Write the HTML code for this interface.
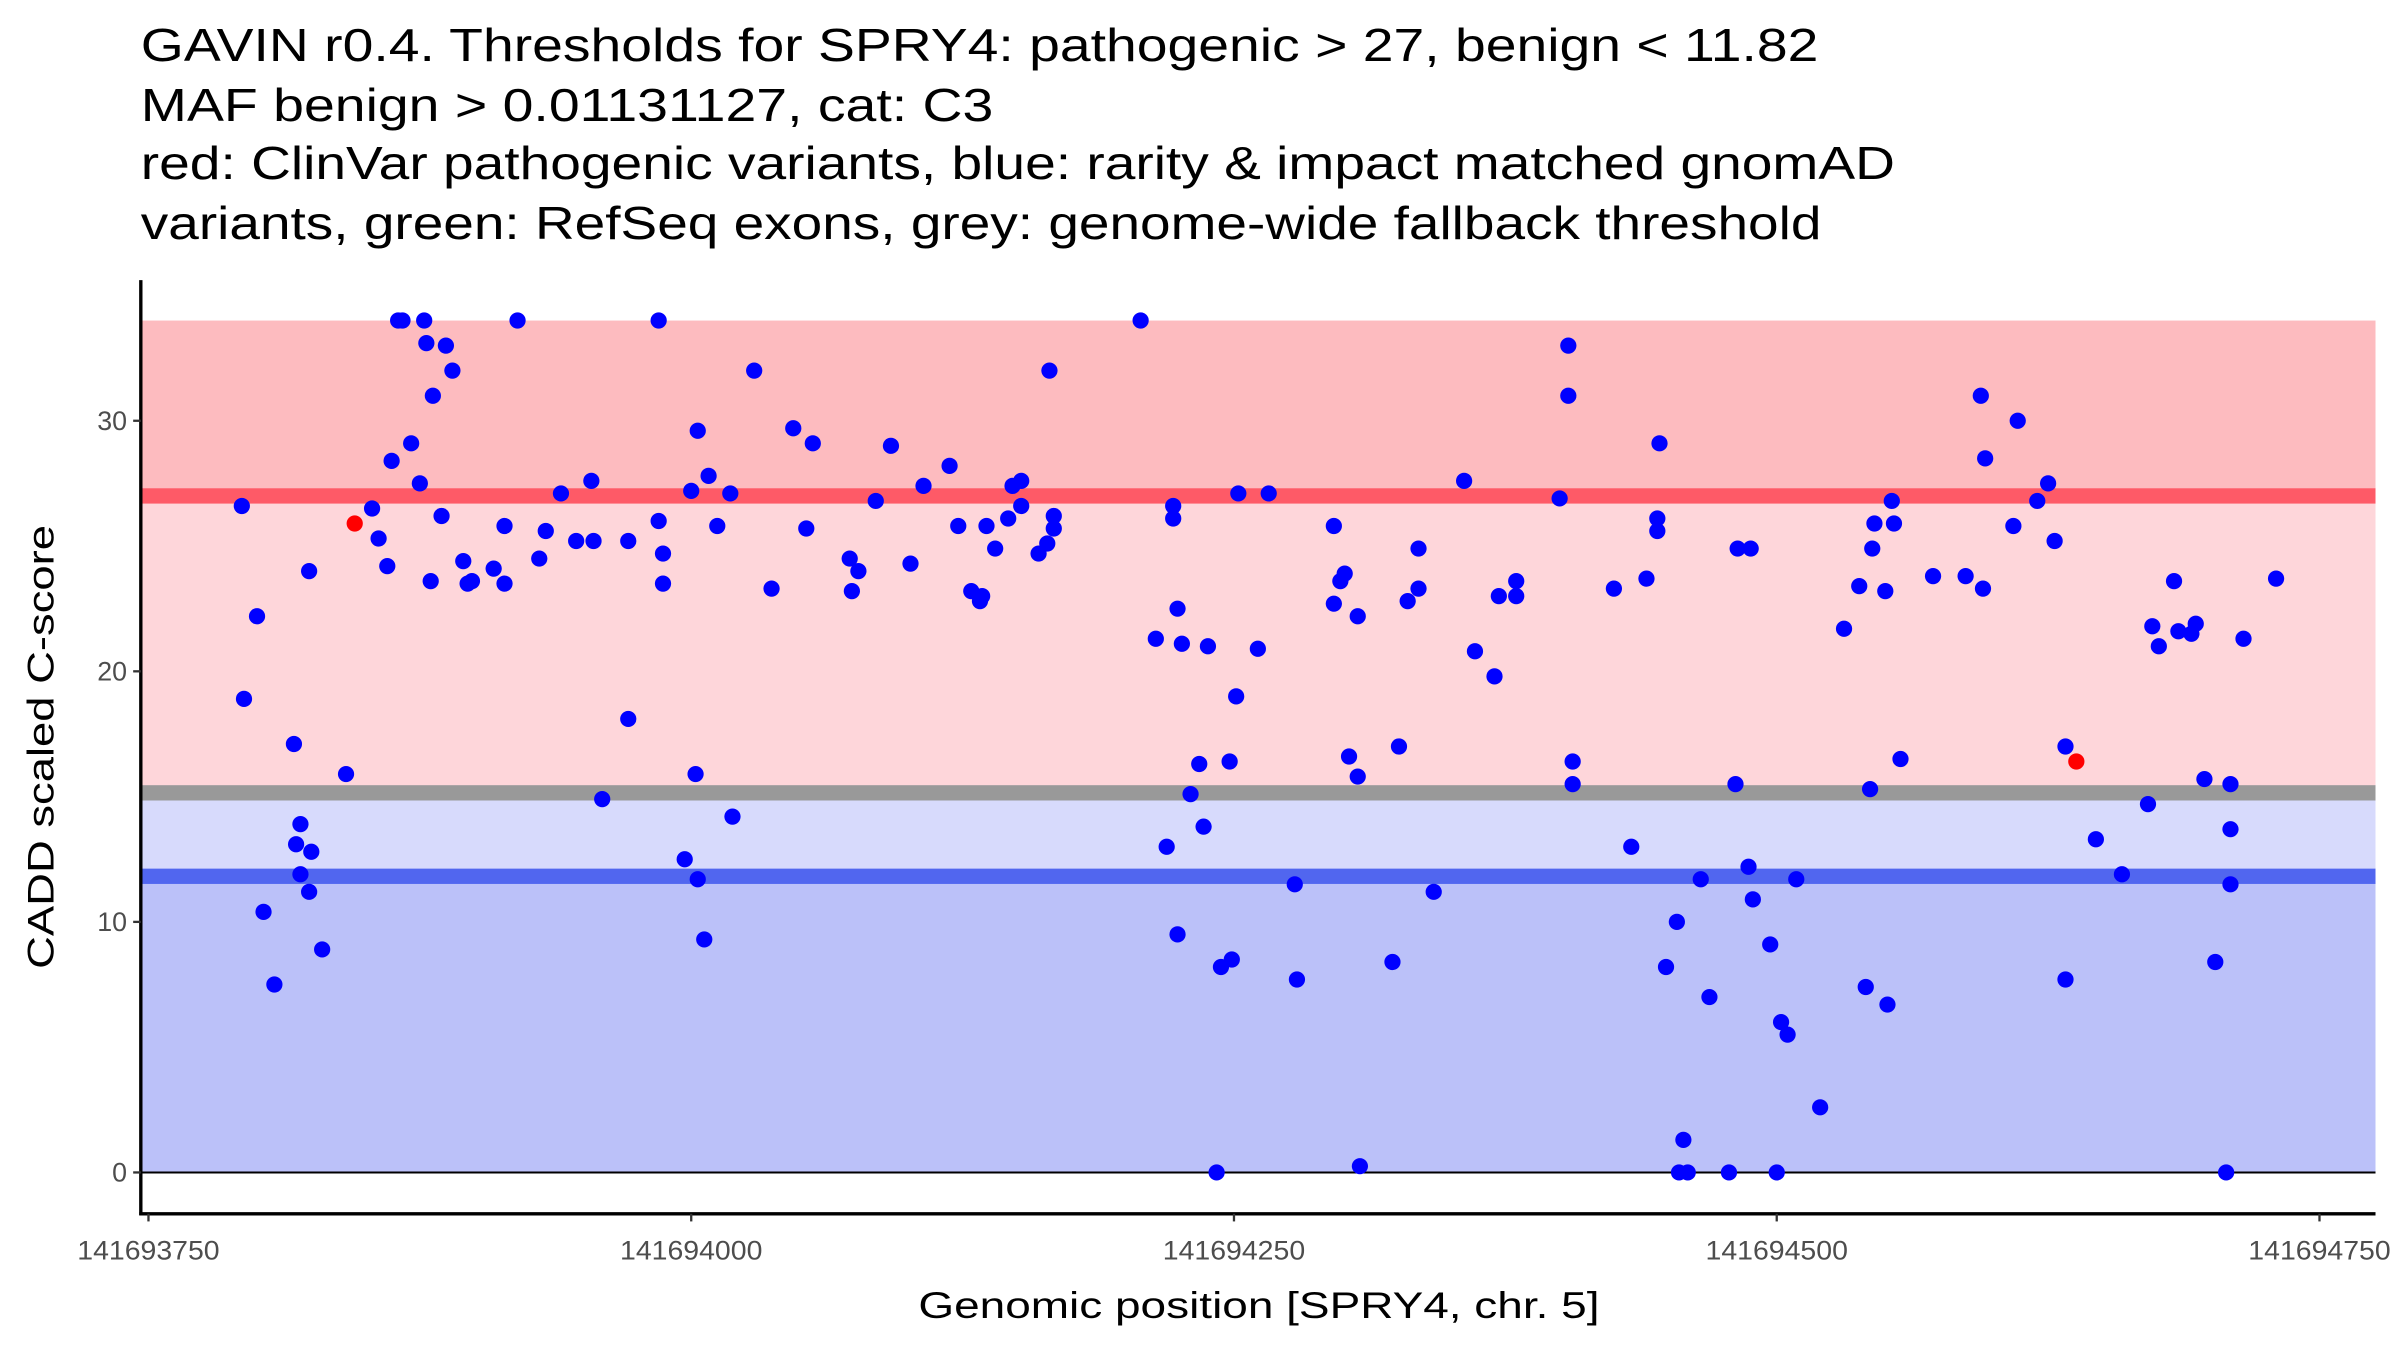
<!DOCTYPE html>
<html><head><meta charset="utf-8"><style>
html,body{margin:0;padding:0;background:#fff;width:2400px;height:1350px;overflow:hidden}
svg{display:block;font-family:"Liberation Sans",Arial,sans-serif}
</style></head><body>
<svg id="chart" width="2400" height="1350" viewBox="0 0 1568 882" xmlns="http://www.w3.org/2000/svg">
<g font-size="30" fill="#000">
<text x="92" y="40" textLength="1096" lengthAdjust="spacingAndGlyphs">GAVIN r0.4. Thresholds for SPRY4: pathogenic &gt; 27, benign &lt; 11.82</text>
<text x="92" y="79" textLength="557" lengthAdjust="spacingAndGlyphs">MAF benign &gt; 0.01131127, cat: C3</text>
<text x="92" y="117" textLength="1146" lengthAdjust="spacingAndGlyphs">red: ClinVar pathogenic variants, blue: rarity &amp; impact matched gnomAD</text>
<text x="92" y="156" textLength="1098" lengthAdjust="spacingAndGlyphs">variants, green: RefSeq exons, grey: genome-wide fallback threshold</text>
</g>
<g id="bands"></g>
<g id="points"></g>
<g id="axes"></g>
<text x="600" y="861" font-size="24" textLength="445" lengthAdjust="spacingAndGlyphs" fill="#000">Genomic position [SPRY4, chr. 5]</text>
<text transform="translate(35,633) rotate(-90)" x="0" y="0" font-size="24" textLength="290" lengthAdjust="spacingAndGlyphs" fill="#000">CADD scaled C-score</text>
</svg>
<script>
const xTicks = [141693750, 141694000, 141694250, 141694500, 141694750];
const yTicks = [0, 10, 20, 30];
const thresholds = { pathogenic: 27, fallback: 15.15, benign: 11.82, top: 34 };
const positions = [141693793,141693794,141693800,141693803,141693808,141693817,141693818,141693820,141693820,141693824,141693825,141693824,141693830,141693841,141693845,141693853,141693856,141693860,141693862,141693865,141693867,141693871,141693875,141693877,141693878,141693881,141693880,141693885,141693887,141693890,141693895,141693897,141693899,141693909,141693914,141693914,141693920,141693930,141693933,141693940,141693947,141693954,141693955,141693959,141693971,141693971,141693985,141693985,141693987,141693987,141693997,141694000,141694002,141694003,141694003,141694006,141694008,141694012,141694018,141694019,141694029,141694037,141694047,141694053,141694056,141694073,141694074,141694077,141694085,141694092,141694101,141694107,141694119,141694123,141694129,141694133,141694134,141694136,141694140,141694146,141694148,141694152,141694152,141694160,141694164,141694165,141694167,141694167,141694207,141694214,141694219,141694222,141694222,141694224,141694224,141694226,141694230,141694234,141694236,141694238,141694242,141694244,141694248,141694249,141694251,141694252,141694261,141694266,141694278,141694279,141694296,141694296,141694299,141694301,141694303,141694307,141694307,141694308,141694323,141694326,141694330,141694335,141694335,141694342,141694356,141694361,141694370,141694372,141694380,141694380,141694400,141694404,141694404,141694406,141694406,141694425,141694433,141694440,141694445,141694445,141694446,141694449,141694454,141694455,141694457,141694459,141694465,141694469,141694478,141694481,141694482,141694488,141694487,141694489,141694497,141694500,141694502,141694505,141694509,141694520,141694531,141694538,141694541,141694543,141694544,141694545,141694550,141694551,141694553,141694554,141694557,141694572,141694587,141694594,141694596,141694595,141694609,141694611,141694620,141694625,141694628,141694633,141694638,141694633,141694647,141694659,141694671,141694673,141694676,141694683,141694685,141694691,141694693,141694697,141694702,141694707,141694709,141694709,141694709,141694715,141694730];
const scores = [26.6,18.9,22.2,10.4,7.5,17.1,13.1,13.9,11.9,11.2,12.8,24.0,8.9,15.9,25.9,26.5,25.3,24.2,28.4,34,34,29.1,27.5,34,33.1,31.0,23.6,26.2,33.0,32.0,24.4,23.5,23.6,24.1,25.8,23.5,34,24.5,25.6,27.1,25.2,27.6,25.2,14.9,25.2,18.1,34,26.0,24.7,23.5,12.5,27.2,15.9,29.6,11.7,9.3,27.8,25.8,27.1,14.2,32.0,23.3,29.7,25.7,29.1,24.5,23.2,24.0,26.8,29.0,24.3,27.4,28.2,25.8,23.2,22.8,23.0,25.8,24.9,26.1,27.4,27.6,26.6,24.7,25.1,32.0,26.2,25.7,34,21.3,13.0,26.6,26.1,22.5,9.5,21.1,15.1,16.3,13.8,21.0,0,8.2,16.4,8.5,19.0,27.1,20.9,27.1,11.5,7.7,25.8,22.7,23.6,23.9,16.6,22.2,15.8,0.25,8.4,17.0,22.8,24.9,23.3,11.2,27.6,20.8,19.8,23.0,23.6,23.0,26.9,33.0,31.0,16.4,15.5,23.3,13.0,23.7,26.1,25.6,29.1,8.2,10.0,0,1.3,0,11.7,7.0,0,15.5,24.9,24.9,12.2,10.9,9.1,0,6.0,5.5,11.7,2.6,21.7,23.4,7.4,15.3,24.9,25.9,23.2,6.7,26.8,25.9,16.5,23.8,23.8,31.0,28.5,23.3,25.8,30.0,26.8,27.5,25.2,17.0,16.4,7.7,13.3,11.9,14.7,21.8,21.0,23.6,21.6,21.5,21.9,15.7,8.4,0,15.5,13.7,11.5,21.3,23.7];
const pathogenicIdx = [14, 182];

const NS='http://www.w3.org/2000/svg';
const L=92,R=1552,T=183,B=793;
const xs=v=>97+(v-141693750)*354.6/250;
const ys=v=>766-v*16.37;
function mk(tag,attrs,parent){const e=document.createElementNS(NS,tag);for(const k in attrs)e.setAttribute(k,attrs[k]);parent.appendChild(e);return e;}
const bands=document.getElementById('bands');
let e;
e=mk('rect',{x:L,y:ys(thresholds.top),width:R-L,height:ys(thresholds.pathogenic)-ys(thresholds.top),fill:'#fdbbbf'},bands);

e=mk('rect',{x:L,y:ys(thresholds.pathogenic),width:R-L,height:ys(thresholds.fallback)-ys(thresholds.pathogenic),fill:'#fed6da'},bands);

e=mk('rect',{x:L,y:ys(thresholds.fallback),width:R-L,height:ys(thresholds.benign)-ys(thresholds.fallback),fill:'#d7dafc'},bands);

e=mk('rect',{x:L,y:ys(thresholds.benign),width:R-L,height:ys(0)-ys(thresholds.benign),fill:'#bbc1f9'},bands);

e=mk('rect',{x:L,y:ys(thresholds.pathogenic)-5,width:R-L,height:10,fill:'#fe5a67'},bands);

e=mk('rect',{x:L,y:ys(thresholds.fallback)-5,width:R-L,height:10,fill:'#999999'},bands);

e=mk('rect',{x:L,y:ys(thresholds.benign)-5,width:R-L,height:10,fill:'#5166ef'},bands);

e=mk('line',{x1:L,x2:R,y1:ys(0),y2:ys(0),stroke:'#000','stroke-width':1.3},bands);


const pts=document.getElementById('points');
positions.forEach((p,i)=>{
  if(pathogenicIdx.includes(i))return;
  const c=mk('circle',{cx:xs(p),cy:ys(scores[i]),r:5.3,fill:'#0000ff'},pts);
  
  
});
pathogenicIdx.forEach(i=>{
  const c=mk('circle',{cx:xs(positions[i]),cy:ys(scores[i]),r:5.3,fill:'#ff0000'},pts);
  
  
});

const ax=document.getElementById('axes');
e=mk('line',{x1:L,x2:L,y1:T,y2:B+1,stroke:'#000','stroke-width':2.2},ax);

e=mk('line',{x1:L-1,x2:R,y1:B,y2:B,stroke:'#000','stroke-width':2.2},ax);

yTicks.forEach(v=>{
  const t=mk('line',{x1:L-5,x2:L,y1:ys(v),y2:ys(v),stroke:'#333','stroke-width':1.5},ax);
  
  const l=mk('text',{x:L-9,y:ys(v)+6,'font-size':17.5,'text-anchor':'end',fill:'#4d4d4d'},ax);
  l.textContent=v;
  
});
xTicks.forEach(v=>{
  const t=mk('line',{x1:xs(v),x2:xs(v),y1:B,y2:B+5,stroke:'#333','stroke-width':1.5},ax);
  
  const l=mk('text',{x:xs(v)-46.5,y:B+30,'font-size':17.5,textLength:93,lengthAdjust:'spacingAndGlyphs',fill:'#4d4d4d'},ax);
  l.textContent=v;
  
});
</script>
</body></html>
